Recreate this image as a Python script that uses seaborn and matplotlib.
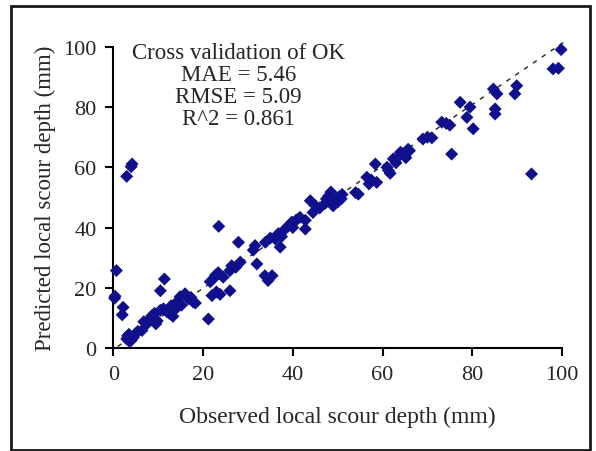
import matplotlib
matplotlib.use("Agg")
import matplotlib.pyplot as plt
import seaborn as sns
import pandas as pd
from matplotlib.patches import Rectangle

# observed vs predicted local scour depth (mm)
observed = [0.3, 0.7, 0.4, 2.2, 2.0, 3.0, 4.2, 4.0,
            3.0, 3.5, 4.0, 4.5, 3.2, 3.6, 5.0, 5.5, 6.4, 6.8, 7.5, 8.0, 8.6, 9.2,
            9.8, 9.5, 10.5, 11.4, 11.2, 10.5, 12.0, 12.5, 12.9, 13.3, 13.8, 14.0,
            14.2, 14.9, 15.2, 16.0, 16.7, 17.3, 17.8, 18.3,
            21.2, 21.6, 22.3, 22.8, 23.4, 23.5, 22.0, 23.0, 23.8, 24.5, 26.0, 26.0,
            26.4, 27.3, 28.3, 27.9, 31.6, 31.2, 32.0, 33.8, 34.5, 35.4, 33.9, 35.0,
            36.1, 36.8, 37.5, 37.2, 38.3, 39.0, 39.8, 40.0, 40.8, 41.6, 42.8, 42.8,
            43.9, 44.5, 45.0, 46.0, 47.2, 47.5, 48.0, 48.5, 49.5, 50.0, 50.3, 50.8,
            51.0, 49.0, 54.0, 54.6, 56.5, 57.0, 57.5, 58.7, 58.4,
            61.0, 61.7, 61.3, 62.4, 63.0, 63.5, 64.0, 64.5, 65.7, 65.2, 66.0,
            69.0, 70.0, 71.0, 73.2, 74.2, 75.0, 75.4, 77.3, 79.5, 78.8, 80.2,
            84.7, 85.5, 85.1, 85.1, 89.9, 89.5, 93.2, 98.0, 99.2, 99.8]
predicted = [16.5, 25.7, 17.2, 13.5, 11.0, 57.0, 61.1, 60.2,
             3.0, 4.5, 2.5, 3.5, 4.0, 2.2, 4.8, 5.5, 5.8, 8.7, 8.0, 9.5, 10.7, 11.5,
             9.0, 8.0, 19.0, 22.9, 13.0, 12.5, 12.0, 11.5, 14.0, 10.5, 12.8, 14.5,
             15.3, 17.0, 14.2, 18.0, 16.3, 16.8, 15.3, 14.9,
             9.6, 22.0, 23.0, 24.2, 25.0, 40.4, 17.4, 18.6, 17.8, 23.5, 25.7, 19.0,
             27.3, 26.8, 28.5, 35.1, 34.0, 32.5, 27.9, 24.0, 22.4, 24.0, 35.1, 36.5,
             36.2, 38.0, 37.0, 33.5, 39.5, 40.5, 41.8, 40.0, 42.5, 43.4, 39.5, 42.4,
             48.9, 45.0, 47.3, 46.5, 48.0, 49.5, 50.5, 51.8, 49.0, 48.5, 50.2, 49.5,
             51.0, 47.2, 51.6, 51.1, 56.7, 54.5, 55.8, 55.0, 61.1,
             60.0, 58.0, 59.0, 62.8, 61.5, 63.5, 65.0, 64.5, 66.0, 63.2, 65.5,
             69.4, 70.0, 69.8, 75.0, 74.6, 74.0, 64.4, 81.6, 80.0, 76.6, 72.8,
             86.0, 84.4, 79.4, 77.7, 87.1, 84.4, 57.8, 92.7, 92.9, 99.1]

# dashed trend line end points
trend_x = [1.0, 100.8]
trend_y = [0.5, 102.0]

stats_text = "Cross validation of OK\nMAE = 5.46\nRMSE = 5.09\nR^2 = 0.861"

df = pd.DataFrame({"observed": observed, "predicted": predicted})

sns.set_style("ticks")
plt.rcParams["font.family"] = ["Liberation Serif", "DejaVu Serif"]

fig = plt.figure(figsize=(5.96, 4.52), dpi=100)
ax = fig.add_axes([0.190, 0.228, 0.753, 0.666])

ax.plot(trend_x, trend_y, color="#333333", linestyle=(0, (3, 4)),
        linewidth=1.1, clip_on=False, zorder=1)
sns.scatterplot(data=df, x="observed", y="predicted", ax=ax, marker="D",
                s=44, color="#10108c", edgecolor="none", clip_on=False, zorder=3)

ax.set_xlim(0, 100)
ax.set_ylim(0, 100)
ax.set_xticks(range(0, 101, 20))
ax.set_yticks(range(0, 101, 20))
ax.tick_params(labelsize=16, length=6, width=1.5, color="black", pad=6)
for side in ["top", "right"]:
    ax.spines[side].set_visible(False)
for side in ["left", "bottom"]:
    ax.spines[side].set_color("black")
    ax.spines[side].set_linewidth(1.5)

ax.set_xlabel("Observed local scour depth (mm)", fontsize=17, labelpad=16)
ax.set_ylabel("Predicted local scour depth (mm)", fontsize=16.5, labelpad=5)

ax.text(27.9, 101.5, stats_text, ha="center", va="top", fontsize=16.5,
        linespacing=1.05)

# outer frame around the whole figure
fig.patches.append(Rectangle((11 / 596, 1 / 452), 579 / 596, 444 / 452,
                             transform=fig.transFigure, fill=False,
                             edgecolor="#1a1a1a", linewidth=2))

fig.savefig("out.png", dpi=100, facecolor="white")
